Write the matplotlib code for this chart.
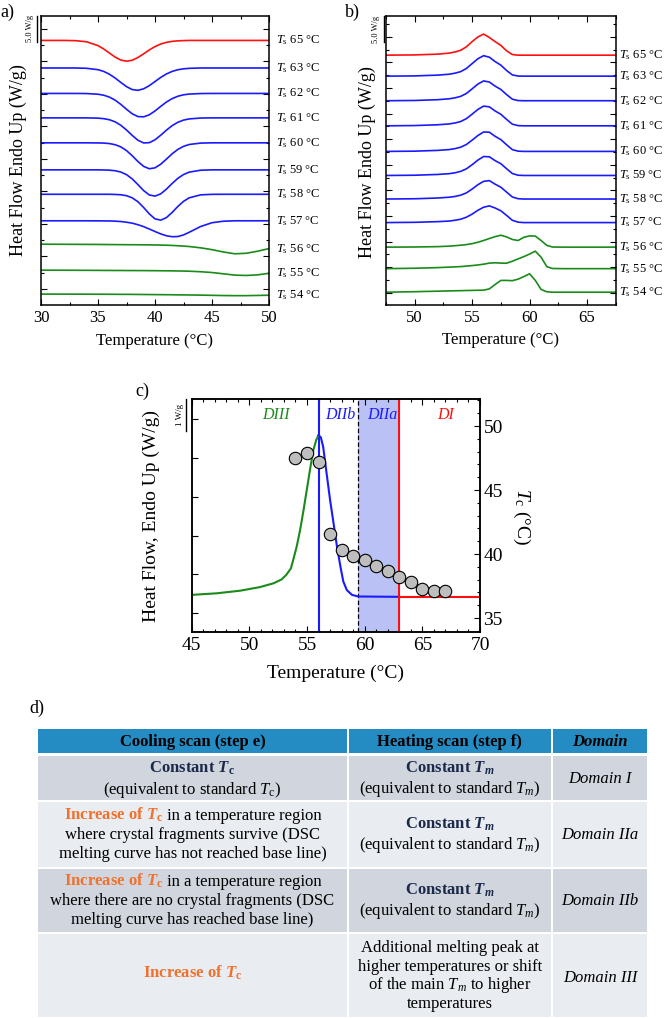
import matplotlib
matplotlib.use('Agg')
import matplotlib.pyplot as plt
from matplotlib.patches import Rectangle
from matplotlib.ticker import MultipleLocator, NullLocator
from matplotlib.transforms import blended_transform_factory as blend

plt.rcParams['font.family'] = ['Liberation Serif', 'DejaVu Serif']
plt.rcParams['mathtext.fontset'] = 'custom'
plt.rcParams['mathtext.rm'] = 'Liberation Serif'
plt.rcParams['mathtext.it'] = 'Liberation Serif:italic'
plt.rcParams['mathtext.bf'] = 'Liberation Serif:bold'
plt.rcParams['mathtext.bfit'] = 'Liberation Serif:italic:bold'

# ---------------- data ----------------
ts_values = [65, 63, 62, 61, 60, 59, 58, 57, 56, 55, 54]

# a) cooling scans, W/g relative to each curve's baseline
cool_temp = [30, 32, 33, 34, 35, 35.5, 36, 36.5, 37, 37.5, 38, 38.5, 39, 39.5,
             40, 40.5, 41, 41.5, 42, 42.5, 43, 44, 45, 46, 47, 48, 49, 50]
cool_65 = [0, 0, -0.04, -0.26, -1.0, -1.64, -2.43, -3.2, -3.78, -4.0, -3.81, -3.29, -2.58, -1.83,
           -1.18, -0.69, -0.37, -0.18, -0.08, -0.03, 0, 0, 0, 0, 0, 0, 0, 0]
cool_63 = [0, 0, 0, -0.06, -0.33, -0.66, -1.2, -1.93, -2.78, -3.59, -4.15, -4.3, -4.01, -3.4,
           -2.61, -1.82, -1.15, -0.66, -0.34, -0.16, -0.07, 0, 0, 0, 0, 0, 0, 0]
cool_62 = [0, 0, 0, -0.02, -0.15, -0.34, -0.7, -1.29, -2.1, -3.04, -3.91, -4.45, -4.5, -4.11,
           -3.37, -2.49, -1.66, -1.0, -0.54, -0.26, -0.12, -0.02, 0, 0, 0, 0, 0, 0]
cool_61 = [0, 0, 0, 0, -0.05, -0.15, -0.36, -0.76, -1.42, -2.33, -3.37, -4.3, -4.82, -4.77,
           -4.22, -3.34, -2.37, -1.5, -0.85, -0.43, -0.2, -0.03, 0, 0, 0, 0, 0, 0]
cool_60 = [0, 0, 0, 0, -0.02, -0.05, -0.14, -0.36, -0.78, -1.49, -2.48, -3.59, -4.53, -4.99,
           -4.81, -4.12, -3.14, -2.12, -1.27, -0.68, -0.32, -0.05, 0, 0, 0, 0, 0, 0]
cool_59 = [0, 0, 0, 0, 0, -0.02, -0.06, -0.17, -0.42, -0.92, -1.74, -2.83, -3.98, -4.83,
           -5.05, -4.62, -3.71, -2.63, -1.64, -0.9, -0.44, -0.07, 0, 0, 0, 0, 0, 0]
cool_58 = [0, 0, 0, 0, 0, 0, 0, -0.03, -0.09, -0.27, -0.68, -1.43, -2.53, -3.77,
           -4.73, -4.98, -4.49, -3.5, -2.35, -1.36, -0.68, -0.11, -0.01, 0, 0, 0, 0, 0]
cool_57 = [0, 0, 0, 0, -0.01, -0.02, -0.03, -0.07, -0.14, -0.27, -0.46, -0.75, -1.12, -1.58,
           -2.06, -2.52, -2.88, -3.06, -3.03, -2.72, -2.21, -1.1, -0.37, -0.08, 0, 0, 0, 0]
cool_56 = [0, -0.02, -0.03, -0.04, -0.05, -0.06, -0.07, -0.08, -0.09, -0.1, -0.1, -0.11, -0.12, -0.13,
           -0.15, -0.17, -0.2, -0.24, -0.3, -0.37, -0.45, -0.7, -1.05, -1.5, -1.85, -1.75, -1.35, -0.85]
cool_55 = [0, -0.01, -0.02, -0.03, -0.04, -0.05, -0.05, -0.06, -0.06, -0.07, -0.07, -0.08, -0.08, -0.09,
           -0.1, -0.11, -0.12, -0.13, -0.15, -0.17, -0.2, -0.3, -0.45, -0.7, -0.95, -1.02, -0.9, -0.6]
cool_54 = [0, -0.01, -0.01, -0.02, -0.03, -0.03, -0.04, -0.04, -0.05, -0.05, -0.06, -0.07, -0.08, -0.09,
           -0.1, -0.11, -0.12, -0.13, -0.15, -0.16, -0.17, -0.2, -0.24, -0.28, -0.3, -0.3, -0.26, -0.22]
cool_offset = [47.8, 42.5, 37.6, 32.9, 28.1, 22.9, 18.2, 13.1, 8.6, 3.6, -1.0]

# b) heating scans, W/g relative to each curve's baseline
heat_temp = [47.5, 50, 52, 53, 53.5, 54, 54.5, 55, 55.5, 56, 56.5, 57, 57.5, 58, 58.5,
             59, 59.5, 60, 60.5, 61, 61.5, 62, 63, 65, 67.5]
heat_65 = [0, 0.05, 0.2, 0.4, 0.62, 0.95, 1.63, 2.65, 3.55, 4.12, 3.45, 2.65, 1.9, 0.85, 0.12,
           0, 0, 0, 0, 0, 0, 0, 0, 0, 0]
heat_63 = [0, 0.05, 0.2, 0.38, 0.58, 0.88, 1.5, 2.45, 3.4, 4.0, 3.7, 2.85, 2.15, 1.1, 0.25,
           0.02, 0, 0, 0, 0, 0, 0, 0, 0, 0]
heat_62 = [0, 0.05, 0.2, 0.38, 0.56, 0.85, 1.42, 2.32, 3.25, 3.87, 3.65, 2.85, 2.2, 1.2, 0.3,
           0.03, 0, 0, 0, 0, 0, 0, 0, 0, 0]
heat_61 = [0, 0.05, 0.2, 0.37, 0.55, 0.84, 1.4, 2.28, 3.2, 3.85, 3.7, 2.9, 2.25, 1.25, 0.32,
           0.04, 0, 0, 0, 0, 0, 0, 0, 0, 0]
heat_60 = [0, 0.05, 0.2, 0.36, 0.54, 0.82, 1.35, 2.2, 3.1, 3.8, 3.75, 2.95, 2.3, 1.3, 0.35,
           0.05, 0, 0, 0, 0, 0, 0, 0, 0, 0]
heat_59 = [0, 0.05, 0.2, 0.35, 0.52, 0.8, 1.3, 2.1, 3.0, 3.7, 3.65, 2.9, 2.3, 1.32, 0.38,
           0.05, 0, 0, 0, 0, 0, 0, 0, 0, 0]
heat_58 = [0, 0.05, 0.2, 0.35, 0.5, 0.75, 1.2, 1.95, 2.8, 3.45, 3.6, 2.9, 2.3, 1.35, 0.4,
           0.06, 0, 0, 0, 0, 0, 0, 0, 0, 0]
heat_57 = [0, 0.05, 0.18, 0.3, 0.45, 0.65, 1.05, 1.65, 2.4, 3.0, 3.26, 2.85, 2.3, 1.4, 0.45,
           0.08, 0, 0, 0, 0, 0, 0, 0, 0, 0]
heat_56 = [0, 0.03, 0.1, 0.2, 0.28, 0.38, 0.5, 0.68, 0.95, 1.3, 1.69, 2.05, 2.33, 2.0, 1.5,
           1.3, 1.92, 2.2, 2.15, 1.3, 0.35, 0.02, 0, 0, 0]
heat_55 = [0, 0.08, 0.2, 0.3, 0.35, 0.4, 0.5, 0.6, 0.72, 0.87, 1.08, 1.15, 1.08, 1.06, 1.45,
           1.9, 2.35, 2.85, 3.42, 2.25, 0.39, 0.03, 0, 0, 0]
heat_54 = [0, 0.1, 0.2, 0.25, 0.28, 0.3, 0.33, 0.35, 0.38, 0.4, 0.65, 1.5, 2.3, 2.3, 2.25,
           2.55, 3.05, 3.6, 2.3, 0.55, 0.08, 0, 0, 0, 0]
heat_offset = [46.4, 42.3, 37.5, 32.6, 27.6, 22.9, 18.3, 13.7, 8.9, 4.7, 0.1]

# c) heating curve split by domains + Tc values
c_temp_d3 = [45.0, 47.2, 49.2, 50.9, 52.1, 52.8, 53.2, 53.6, 53.8, 54.1, 54.4, 54.7, 55.0,
             55.3, 55.55, 55.8, 56.0]
c_hf_d3 = [0.56, 0.61, 0.69, 0.80, 0.92, 1.04, 1.18, 1.38, 1.64, 2.05, 2.57, 3.19, 3.86,
           4.53, 5.05, 5.36, 5.51]
c_temp_d2 = [56.0, 56.2, 56.4, 56.7, 57.0, 57.3, 57.6, 57.9, 58.15, 58.45, 58.9, 59.45, 63.0]
c_hf_d2 = [5.51, 5.44, 5.15, 4.32, 3.5, 2.78, 2.05, 1.43, 0.97, 0.71, 0.56, 0.51, 0.50]
c_temp_d1 = [63.0, 70.0]
c_hf_d1 = [0.50, 0.50]
tc_ts = [54, 55, 56, 57, 58, 59, 60, 61, 62, 63, 64, 65, 66, 67]
tc_vals = [47.5, 47.9, 47.2, 41.6, 40.3, 39.85, 39.55, 39.1, 38.7, 38.2, 37.8, 37.3, 37.1, 37.1]
domain_limits = [56.0, 59.4, 63.0]
domain_names = ['DIII', 'DIIb', 'DIIa', 'DI']

# d) table
table_header = ['Cooling scan (step e)', 'Heating scan (step f)', 'Domain']
table_domains = ['Domain I', 'Domain IIa', 'Domain IIb', 'Domain III']
const_tc = r'Constant $\mathbfit{T}_\mathbf{c}$'
const_tm = r'Constant $\mathbfit{T}_\mathbfit{m}$'
increase_tc = r'Increase of $\mathbfit{T}_\mathbf{c}$'
equiv_tc = r'(equivalent to standard $T_\mathrm{c}$)'
equiv_tm = r'(equivalent to standard $T_m$)'
row2_cool = ['in a temperature region', 'where crystal fragments survive (DSC',
             'melting curve has not reached base line)']
row3_cool = ['in a temperature region', 'where there are no crystal fragments (DSC',
             'melting curve has reached base line)']
row4_heat = ['Additional melting peak at', 'higher temperatures or shift',
             r'of the main $T_m$ to higher', 'temperatures']

# ---------------- figure ----------------
W, H = 664, 1018
RED, BLUE, GREEN = '#FF1010', '#1A1AFF', '#1A8A1A'
NAVY, ORANGE = '#1B2A4A', '#F0702C'


def box(l, t, r, b):
    return [l / W, 1 - b / H, (r - l) / W, (b - t) / H]


fig = plt.figure(figsize=(W / 100, H / 100), dpi=100)
ax_a = fig.add_axes(box(41, 16, 269, 305))
ax_b = fig.add_axes(box(386, 16, 615.7, 305))
ax_c = fig.add_axes(box(191.7, 399, 480, 632))

colors = [RED] + [BLUE] * 7 + [GREEN] * 3
cool_curves = [cool_65, cool_63, cool_62, cool_61, cool_60, cool_59, cool_58, cool_57,
               cool_56, cool_55, cool_54]
heat_curves = [heat_65, heat_63, heat_62, heat_61, heat_60, heat_59, heat_58, heat_57,
               heat_56, heat_55, heat_54]


def stack(ax, temp, curves, offsets, lab_x):
    tr = blend(ax.transAxes, ax.transData)
    for vals, off, ts, col in zip(curves, offsets, ts_values, colors):
        y = [v + off for v in vals]
        ax.plot(temp, y, color=col, lw=1.2)
        ax.text(lab_x, y[-1], rf'$T_\mathrm{{s}}$ {ts} °C', transform=tr, fontsize=9,
                ha='left', va='center', clip_on=False)


def frame(ax, lw=1.1):
    for s in ax.spines.values():
        s.set_linewidth(lw)
    ax.tick_params(which='both', direction='in', top=True, right=True, width=0.8)
    ax.tick_params(which='major', length=4, labelsize=12)
    ax.tick_params(which='minor', length=2.2)
    ax.tick_params(axis='y', labelleft=False)


# a)
stack(ax_a, cool_temp, cool_curves, cool_offset, 1.029)
ax_a.set_xlim(30, 50)
ax_a.set_ylim(-3.1, 52.5)
frame(ax_a)
ax_a.xaxis.set_major_locator(MultipleLocator(5))
ax_a.xaxis.set_minor_locator(MultipleLocator(2.5))
ax_a.yaxis.set_major_locator(MultipleLocator(6.25))
ax_a.yaxis.set_minor_locator(MultipleLocator(3.125))
tra = blend(ax_a.transAxes, ax_a.transData)
ax_a.plot([-0.019, -0.019], [52.5, 47.5], transform=tra, color='k', lw=1, clip_on=False)
ax_a.text(-0.05, 50.0, '5.0 W/g', transform=tra, rotation=90, fontsize=6,
          ha='center', va='center')

# b)
stack(ax_b, heat_temp, heat_curves, heat_offset, 1.014)
ax_b.set_xlim(47.5, 67.5)
ax_b.set_ylim(-2.4, 54.05)
frame(ax_b)
ax_b.xaxis.set_major_locator(MultipleLocator(5))
ax_b.xaxis.set_minor_locator(MultipleLocator(2.5))
ax_b.yaxis.set_major_locator(MultipleLocator(5))
ax_b.yaxis.set_minor_locator(MultipleLocator(2.5))
trb = blend(ax_b.transAxes, ax_b.transData)
ax_b.plot([-0.009, -0.009], [54.05, 49.05], transform=trb, color='k', lw=1, clip_on=False)
ax_b.text(-0.045, 51.5, '5.0 W/g', transform=trb, rotation=90, fontsize=6,
          ha='center', va='center')

# c)
ax_c.axvspan(domain_limits[1], domain_limits[2], color='#BAC2F5', lw=0, zorder=0)
ax_c.axvline(domain_limits[0], color=BLUE, lw=1.5)
ax_c.axvline(domain_limits[1], color='k', lw=0.9, ls=(0, (3.5, 2)))
ax_c.axvline(domain_limits[2], color=RED, lw=1.5)
ax_c.plot(c_temp_d3, c_hf_d3, color=GREEN, lw=1.5)
ax_c.plot(c_temp_d2, c_hf_d2, color=BLUE, lw=1.5)
ax_c.plot(c_temp_d1, c_hf_d1, color=RED, lw=1.5)
ax_c.set_xlim(45, 70)
ax_c.set_ylim(-0.59, 6.63)
for s in ax_c.spines.values():
    s.set_linewidth(1.1)
ax_c.tick_params(which='both', direction='in', top=True, right=False, width=0.8)
ax_c.tick_params(which='major', length=4.5, labelsize=14)
ax_c.tick_params(which='minor', length=2.5)
ax_c.tick_params(axis='y', labelleft=False)
ax_c.xaxis.set_major_locator(MultipleLocator(5))
ax_c.xaxis.set_minor_locator(MultipleLocator(1))
ax_c.yaxis.set_major_locator(MultipleLocator(1.2))
ax_c.yaxis.set_minor_locator(NullLocator())
trc = blend(ax_c.transData, ax_c.transAxes)
for name, x, col in zip(domain_names, [52.3, 57.9, 61.55, 67.0], [GREEN, BLUE, BLUE, RED]):
    ax_c.text(x, 0.93, name, transform=trc, color=col, fontsize=11.5, style='italic',
              ha='center', va='center')
trc2 = blend(ax_c.transAxes, ax_c.transData)
ax_c.plot([-0.02, -0.02], [6.63, 5.63], transform=trc2, color='k', lw=1, clip_on=False)
ax_c.text(-0.04, 6.13, '1 W/g', transform=trc2, rotation=90, fontsize=6.5,
          ha='center', va='center')

ax_t = ax_c.twinx()
ax_t.scatter(tc_ts, tc_vals, s=80, c='#BEBEBE', edgecolors='k', linewidths=0.8, zorder=5)
ax_t.set_ylim(33.91, 52.11)
ax_t.yaxis.set_major_locator(MultipleLocator(5))
ax_t.yaxis.set_minor_locator(MultipleLocator(1))
ax_t.tick_params(which='both', direction='in', width=0.8, pad=2.5)
ax_t.tick_params(which='major', length=4.5, labelsize=14)
ax_t.tick_params(which='minor', length=2.5)
for s in ax_t.spines.values():
    s.set_linewidth(1.1)

# overlay in pixel coordinates for labels and table
ov = fig.add_axes([0, 0, 1, 1])
ov.set_xlim(0, W)
ov.set_ylim(H, 0)
ov.axis('off')

for lab, x, y in [('a)', 7, 12), ('b)', 352, 12), ('c)', 142.5, 391), ('d)', 36.5, 708.5)]:
    ov.text(x, y, lab, fontsize=13, ha='center', va='center')

ov.text(18, 160, 'Heat Flow Endo Up (W/g)', rotation=90, fontsize=13, ha='center', va='center')
ov.text(367, 162, 'Heat Flow Endo Up (W/g)', rotation=90, fontsize=13, ha='center', va='center')
ov.text(151.7, 516, 'Heat Flow, Endo Up (W/g)', rotation=90, fontsize=14, ha='center', va='center')
ov.text(521.5, 517, r'$T_\mathrm{c}$ (°C)', rotation=270, fontsize=14, ha='center', va='center')
ov.text(155, 341, 'Temperature (°C)', fontsize=12, ha='center', va='center')
ov.text(501, 340, 'Temperature (°C)', fontsize=12, ha='center', va='center')
ov.text(335.8, 673, 'Temperature (°C)', fontsize=14, ha='center', va='center')

# table
cols = [(38.3, 346.5), (348.5, 551), (553, 647)]
rows = [(729.3, 753.3), (755.5, 800), (802, 866.5), (868.5, 932), (934, 1016.5)]
fills = ['#258BC3', '#D1D6DE', '#E9ECF0', '#D1D6DE', '#E9ECF0']
for (t, b), fc in zip(rows, fills):
    for l, r in cols:
        ov.add_patch(Rectangle((l, t), r - l, b - t, facecolor=fc, edgecolor='none'))

cx = [(l + r) / 2 for l, r in cols]
FS = 12
rend = fig.canvas.get_renderer()


def line(x, y, s, color='k', weight='normal', style='normal'):
    ov.text(x, y + 5, s, color=color, fontweight=weight, style=style, fontsize=FS,
            ha='center', va='baseline')


def two_tone(x, y, first, second):
    a = ov.text(0, y + 5, first, color=ORANGE, fontweight='bold', fontsize=FS,
                ha='left', va='baseline')
    b = ov.text(0, y + 5, second, color='k', fontsize=FS, ha='left', va='baseline')
    wa = a.get_window_extent(rend).width
    wb = b.get_window_extent(rend).width
    gap = 3.5
    x0 = x - (wa + wb + gap) / 2
    a.set_x(x0)
    b.set_x(x0 + wa + gap)


for x, s in zip(cx, table_header):
    line(x, 741.5, s, weight='bold', style='italic' if s == 'Domain' else 'normal')

# row 1
line(cx[0], 768, const_tc, color=NAVY, weight='bold')
line(cx[0], 789, equiv_tc)
# rows 1-3 heating column
for yc in [778, 834, 900]:
    line(cx[1], yc - 10, const_tm, color=NAVY, weight='bold')
    line(cx[1], yc + 10, equiv_tm)
# rows 2-3 cooling column
for yc, txt in [(834, row2_cool), (900, row3_cool)]:
    two_tone(cx[0], yc - 19.5, increase_tc, txt[0])
    line(cx[0], yc, txt[1])
    line(cx[0], yc + 19.5, txt[2])
# row 4
line(cx[0], 973, increase_tc, color=ORANGE, weight='bold')
for i, s in enumerate(row4_heat):
    line(cx[1], 947 + 18.7 * i, s)
for yc, s in zip([778, 834, 900, 977], table_domains):
    line(cx[2], yc, s, style='italic')

fig.savefig('out.png', dpi=100)
